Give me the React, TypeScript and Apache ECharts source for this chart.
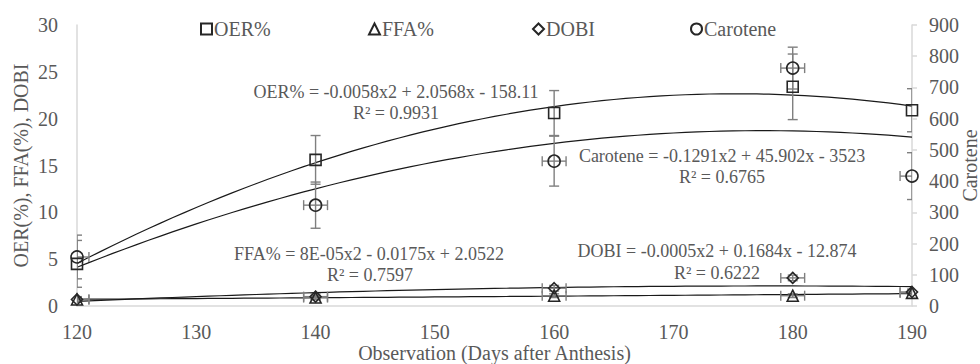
import React, { useEffect, useRef } from "react";
import * as echarts from "echarts";

const days = [120, 140, 160, 180, 190];
const oer = [4.5, 15.6, 20.6, 23.4, 20.9];
const oerErr = [2.5, 2.6, 2.4, 3.5, 2.3];
const ffa = [0.7, 0.9, 1.1, 1.1, 1.4];
const ffaErr = [0.2, 0.2, 0.2, 0.2, 0.2];
const dobi = [0.7, 1.0, 1.9, 3.0, 1.5];
const dobiErr = [0.3, 0.3, 0.3, 0.3, 0.3];
const carotene = [157, 323, 464, 762, 416];
const caroteneErr = [70, 74, 80, 67, 75];
const dayErr = 1;

const seriesNames = ["OER%", "FFA%", "DOBI", "Carotene"];
const seriesIcons = ["rect", "triangle", "diamond", "circle"];

const oerEq = "OER% = -0.0058x2 + 2.0568x - 158.11";
const oerR2 = "R² = 0.9931";
const carEq = "Carotene = -0.1291x2 + 45.902x - 3523";
const carR2 = "R² = 0.6765";
const ffaEq = "FFA% = 8E-05x2 - 0.0175x + 2.0522";
const ffaR2 = "R² = 0.7597";
const dobiEq = "DOBI = -0.0005x2 + 0.1684x - 12.874";
const dobiR2 = "R² = 0.6222";

const FONT = "Liberation Serif";
const TXT = "#595959";
const AXIS = "#d9d9d9";
const MARK = "#262626";
const ERR = "#7f7f7f";

// least-squares quadratic fit (Excel-style polynomial trendline)
function polyfit2(xs: number[], ys: number[]) {
  const c = 155;
  const S = [0, 0, 0, 0, 0];
  const T = [0, 0, 0];
  xs.forEach((x0, i) => {
    const x = x0 - c;
    for (let k = 0; k < 5; k++) S[k] += Math.pow(x, k);
    for (let k = 0; k < 3; k++) T[k] += ys[i] * Math.pow(x, k);
  });
  const A = [
    [S[0], S[1], S[2], T[0]],
    [S[1], S[2], S[3], T[1]],
    [S[2], S[3], S[4], T[2]],
  ];
  for (let i = 0; i < 3; i++) {
    for (let j = i + 1; j < 3; j++) {
      const f = A[j][i] / A[i][i];
      for (let k = i; k < 4; k++) A[j][k] -= f * A[i][k];
    }
  }
  const r = [0, 0, 0];
  for (let i = 2; i >= 0; i--) {
    let s = A[i][3];
    for (let k = i + 1; k < 3; k++) s -= A[i][k] * r[k];
    r[i] = s / A[i][i];
  }
  return (x: number) => r[0] + r[1] * (x - c) + r[2] * (x - c) * (x - c);
}

function trend(name: string, ys: number[], yAxisIndex: number) {
  const f = polyfit2(days, ys);
  const pts: number[][] = [];
  for (let x = days[0]; x <= days[days.length - 1]; x += 1) pts.push([x, f(x)]);
  return {
    type: "line",
    name,
    yAxisIndex,
    data: pts,
    showSymbol: false,
    symbol: "none",
    smooth: false,
    silent: true,
    lineStyle: { color: "#1a1a1a", width: 1.2 },
    z: 2,
  };
}

function errBars(name: string, ys: number[], errs: number[], xe: number, yAxisIndex: number) {
  return {
    type: "custom",
    name,
    yAxisIndex,
    clip: true,
    silent: true,
    z: 3,
    data: days.map((d, i) => [d, ys[i], errs[i], xe]),
    encode: { x: 0, y: 1 },
    renderItem: (params: any, api: any) => {
      const x = api.value(0);
      const y = api.value(1);
      const e = api.value(2);
      const h = api.value(3);
      const style = { stroke: ERR, lineWidth: 1.4, fill: null };
      const cap = 5;
      const children: any[] = [];
      if (e > 0) {
        const t = api.coord([x, y + e]);
        const b = api.coord([x, y - e]);
        children.push({ type: "line", shape: { x1: t[0], y1: t[1], x2: b[0], y2: b[1] }, style });
        children.push({ type: "line", shape: { x1: t[0] - cap, y1: t[1], x2: t[0] + cap, y2: t[1] }, style });
        children.push({ type: "line", shape: { x1: b[0] - cap, y1: b[1], x2: b[0] + cap, y2: b[1] }, style });
      }
      if (h > 0) {
        const l = api.coord([x - h, y]);
        const r = api.coord([x + h, y]);
        children.push({ type: "line", shape: { x1: l[0], y1: l[1], x2: r[0], y2: r[1] }, style });
        children.push({ type: "line", shape: { x1: l[0], y1: l[1] - cap, x2: l[0], y2: l[1] + cap }, style });
        children.push({ type: "line", shape: { x1: r[0], y1: r[1] - cap, x2: r[0], y2: r[1] + cap }, style });
      }
      return { type: "group", children };
    },
  };
}

function scatter(name: string, ys: number[], symbol: string, size: number, yAxisIndex: number) {
  return {
    type: "scatter",
    name,
    yAxisIndex,
    symbol,
    symbolSize: size,
    data: days.map((d, i) => [d, ys[i]]),
    itemStyle: { color: "rgba(255,255,255,0)", borderColor: MARK, borderWidth: 1.6, opacity: 1 },
    z: 4,
  };
}

function label(text: string, x: number, y: number) {
  return {
    type: "text",
    x,
    y,
    silent: true,
    style: {
      text,
      fill: TXT,
      fontSize: 18,
      fontFamily: FONT,
      textAlign: "center",
      textVerticalAlign: "middle",
      align: "center",
      verticalAlign: "middle",
    },
  };
}

const legendLefts = [200, 368, 532, 690];

export default function App() {
  const ref = useRef<HTMLDivElement>(null);
  useEffect(() => {
    if (!ref.current) return;
    const chart = echarts.init(ref.current, null, { renderer: "svg" });
    chart.setOption({
      animation: false,
      backgroundColor: "#ffffff",
      textStyle: { fontFamily: FONT },
      grid: { left: 77, right: 68, top: 25, bottom: 58, containLabel: false, outerBoundsMode: "none" },
      legend: seriesNames.map((n, i) => ({
        left: legendLefts[i] - 5,
        top: 14,
        itemWidth: 11,
        itemHeight: 11,
        selectedMode: false,
        data: [{ name: n, icon: seriesIcons[i] }],
        textStyle: { color: TXT, fontSize: 20, fontFamily: FONT, padding: [0, 0, 0, -3] },
      })),
      xAxis: {
        type: "value",
        min: 120,
        max: 190,
        interval: 10,
        name: "Observation (Days after Anthesis)",
        nameLocation: "middle",
        nameGap: 37,
        nameMoveOverlap: false,
        nameTextStyle: { color: TXT, fontSize: 20, fontFamily: FONT },
        axisLine: { show: true, lineStyle: { color: AXIS, width: 1.5 } },
        axisTick: { show: false },
        splitLine: { show: false },
        axisLabel: { color: TXT, fontSize: 20, fontFamily: FONT, margin: 16 },
      },
      yAxis: [
        {
          type: "value",
          min: 0,
          max: 30,
          interval: 5,
          name: "OER(%), FFA(%), DOBI",
          nameLocation: "middle",
          nameRotate: 90,
          nameGap: 46,
          nameMoveOverlap: false,
          nameTextStyle: { color: TXT, fontSize: 20, fontFamily: FONT },
          axisLine: { show: true, lineStyle: { color: AXIS, width: 1.5 } },
          axisTick: { show: false },
          splitLine: { show: false },
          axisLabel: { color: TXT, fontSize: 20, fontFamily: FONT, margin: 19 },
        },
        {
          type: "value",
          position: "right",
          min: 0,
          max: 900,
          interval: 100,
          name: "Carotene",
          nameLocation: "middle",
          nameRotate: 90,
          nameGap: 48,
          nameMoveOverlap: false,
          nameTextStyle: { color: TXT, fontSize: 20, fontFamily: FONT },
          axisLine: { show: true, lineStyle: { color: AXIS, width: 1.5 } },
          axisTick: { show: true, inside: false, length: 5, lineStyle: { color: AXIS, width: 1.5 } },
          splitLine: { show: false },
          axisLabel: { color: TXT, fontSize: 20, fontFamily: FONT, margin: 17 },
        },
      ],
      graphic: [
        label(oerEq, 396, 92),
        label(oerR2, 396, 113),
        label(carEq, 722, 156),
        label(carR2, 722, 177),
        label(ffaEq, 369, 254),
        label(ffaR2, 370, 275),
        label(dobiEq, 717, 251),
        label(dobiR2, 717, 273),
      ],
      series: [
        trend("OER trend", oer, 0),
        trend("FFA trend", ffa, 0),
        trend("DOBI trend", dobi, 0),
        trend("Carotene trend", carotene, 1),
        errBars("OER err", oer, oerErr, 0, 0),
        errBars("FFA err", ffa, ffaErr, dayErr, 0),
        errBars("DOBI err", dobi, dobiErr, dayErr, 0),
        errBars("Carotene err", carotene, caroteneErr, dayErr, 1),
        scatter("OER%", oer, "rect", 11, 0),
        scatter("FFA%", ffa, "triangle", 11, 0),
        scatter("DOBI", dobi, "diamond", 11, 0),
        scatter("Carotene", carotene, "circle", 12, 1),
      ],
    });
    return () => chart.dispose();
  }, []);
  return (
    <div
      ref={ref}
      style={{ position: "fixed", left: 0, top: 0, width: 980, height: 364, background: "#fff" }}
    />
  );
}
